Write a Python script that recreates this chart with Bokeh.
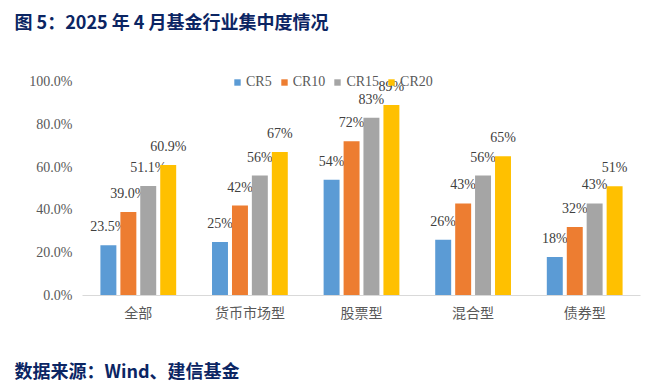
from bokeh.plotting import figure
from bokeh.models import (ColumnDataSource, FactorRange, Range1d, FixedTicker,
                          NumeralTickFormatter, Legend, LegendItem, Title)
from bokeh.transform import dodge
from bokeh.core.properties import value
from bokeh.embed import file_html
from bokeh.resources import INLINE

categories = ["全部", "货币市场型", "股票型", "混合型", "债券型"]
series = ["CR5", "CR10", "CR15", "CR20"]
cr5 = [23.5, 25, 54, 26, 18]
cr10 = [39.0, 42, 72, 43, 32]
cr15 = [51.1, 56, 83, 56, 43]
cr20 = [60.9, 67, 89, 65, 51]
label_decimals = [1, 0, 0, 0, 0]
y_ticks = [0, 20, 40, 60, 80, 100]

colors = ["#5B9BD5", "#ED7D31", "#A5A5A5", "#FFC000"]
offsets = [-0.268, -0.089, 0.089, 0.268]
bar_w = 0.143
SERIF = "'Liberation Serif', 'Times New Roman', serif"

p = figure(width=653, height=387, x_range=FactorRange(*categories),
           y_range=Range1d(0, 1.2), output_backend="svg", toolbar_location=None,
           min_border_left=82, min_border_right=13, min_border_top=38,
           min_border_bottom=85)
p.outline_line_color = None
p.xgrid.grid_line_color = None
p.ygrid.grid_line_color = None
p.background_fill_color = "white"
p.border_fill_color = "white"

items = []
for name, vals, col, off in zip(series, [cr5, cr10, cr15, cr20], colors, offsets):
    labs = [f"{v:.{d}f}%" for v, d in zip(vals, label_decimals)]
    src = ColumnDataSource(dict(cat=categories, val=[v / 100 for v in vals], lab=labs))
    r = p.vbar(x=dodge("cat", off, range=p.x_range), top="val", width=bar_w,
               source=src, fill_color=col, line_color=None)
    p.text(x=dodge("cat", off, range=p.x_range), y="val", text="lab", source=src,
           text_align="center", text_baseline="bottom", y_offset=-11,
           text_font=value(SERIF), text_font_size="14px",
           text_color="#404040")
    items.append(LegendItem(label=name, renderers=[r]))

legend = Legend(items=items, orientation="horizontal", location=(151, 205),
                padding=0, margin=0, spacing=8, label_standoff=5,
                glyph_width=8, glyph_height=8, label_height=16,
                label_text_font=SERIF, label_text_font_size="14px",
                label_text_color="#595959", background_fill_alpha=0,
                border_line_color=None, level="underlay")
p.add_layout(legend)

p.yaxis.ticker = FixedTicker(ticks=[t / 100 for t in y_ticks])
p.yaxis.formatter = NumeralTickFormatter(format="0.0%")
p.yaxis.axis_line_color = None
p.yaxis.major_tick_line_color = None
p.yaxis.minor_tick_line_color = None
p.yaxis.major_label_standoff = 4
p.yaxis.major_label_text_font = SERIF
p.yaxis.major_label_text_font_size = "14px"
p.yaxis.major_label_text_color = "#595959"

p.xaxis.axis_line_color = "#D9D9D9"
p.xaxis.major_tick_line_color = None
p.xaxis.minor_tick_line_color = None
p.xaxis.major_label_standoff = 0
p.xaxis.major_label_text_font = "Noto Sans CJK SC"
p.xaxis.major_label_text_font_size = "14px"
p.xaxis.major_label_text_color = "#595959"

p.add_layout(Title(text="图 5：2025 年 4 月基金行业集中度情况", align="left", offset=-68,
                   text_font="Noto Sans CJK SC", text_font_style="bold",
                   text_font_size="18px", text_color="#0B2563"), "above")
# spacer between the axis labels and the source note
p.add_layout(Title(text="\u00a0", standoff=3, text_font="Noto Sans CJK SC",
                   text_font_size="14px", text_color="white"), "below")
p.add_layout(Title(text="数据来源：Wind、建信基金", align="left", offset=-68,
                   standoff=10,
                   text_font="Noto Sans CJK SC", text_font_style="bold",
                   text_font_size="18px", text_color="#0B2563"), "below")

open("out.html", "w").write(file_html(p, INLINE))
